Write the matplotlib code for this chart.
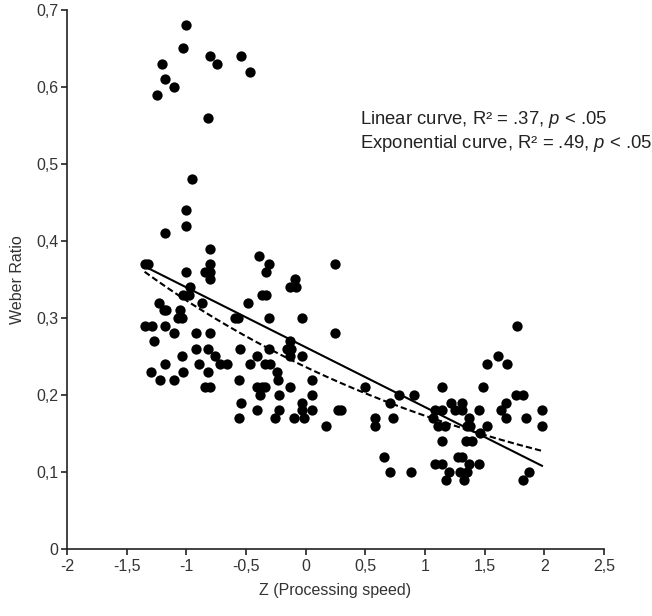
#!/usr/bin/env python3
# -*- coding: utf-8 -*-
import numpy as np
import matplotlib
matplotlib.use("Agg")
import matplotlib.pyplot as plt
import matplotlib as mpl
from matplotlib.ticker import FuncFormatter

mpl.rcParams.update({
    'font.family': ['Liberation Sans', 'DejaVu Sans'],
    'mathtext.fontset': 'custom',
    'mathtext.rm': 'Liberation Sans',
    'mathtext.it': 'Liberation Sans:italic',
})

# Z score (processing speed) and Weber ratio
z_top = [-1.00, -1.03, -1.20, -0.80, -0.74, -0.54, -0.47, -1.18, -1.10, -1.25,
         -0.82, -0.95, -1.00, -1.00, -1.18, -0.80]
w_top = [0.68, 0.65, 0.63, 0.64, 0.63, 0.64, 0.62, 0.61, 0.60, 0.59,
         0.56, 0.48, 0.44, 0.42, 0.41, 0.39]

z_left = [-1.35, -1.32, -1.00, -0.84, -0.80, -0.80, -0.80, -0.97, -1.03, -0.98,
          -0.87, -1.23, -1.19, -1.17, -1.05, -1.07, -1.04, -0.59, -0.57, -1.35,
          -1.29, -1.18, -1.10, -1.27, -0.92, -0.80, -0.92, -0.82, -0.76, -0.55,
          -1.04, -1.18, -0.89, -0.72, -0.66, -1.30, -1.03, -0.82, -1.22, -1.10,
          -0.56, -0.84, -0.80, -0.54, -0.56]
w_left = [0.37, 0.37, 0.36, 0.36, 0.37, 0.36, 0.35, 0.34, 0.33, 0.33,
          0.32, 0.32, 0.31, 0.31, 0.31, 0.30, 0.30, 0.30, 0.30, 0.29,
          0.29, 0.29, 0.28, 0.27, 0.28, 0.28, 0.26, 0.26, 0.25, 0.26,
          0.25, 0.24, 0.24, 0.24, 0.24, 0.23, 0.23, 0.23, 0.22, 0.22,
          0.22, 0.21, 0.21, 0.19, 0.17]

z_mid = [-0.48, -0.39, -0.31, -0.33, -0.37, -0.33, -0.31, -0.09, -0.13, -0.08,
         -0.03, 0.245, 0.245, -0.13, -0.16, -0.12, -0.13, -0.03, -0.31, -0.41,
         -0.47, -0.34, -0.30, -0.24, -0.23, 0.05, -0.41, -0.37, -0.34, -0.38,
         -0.13, -0.22, 0.05, -0.03, -0.03, 0.05, -0.41, -0.22, -0.26, -0.10,
         -0.01, 0.27, 0.17]
w_mid = [0.32, 0.38, 0.37, 0.36, 0.33, 0.33, 0.30, 0.35, 0.34, 0.34,
         0.30, 0.37, 0.28, 0.27, 0.26, 0.26, 0.25, 0.25, 0.26, 0.25,
         0.24, 0.24, 0.24, 0.23, 0.22, 0.22, 0.21, 0.21, 0.21, 0.20,
         0.21, 0.20, 0.20, 0.19, 0.18, 0.18, 0.18, 0.18, 0.17, 0.17,
         0.17, 0.18, 0.16]

z_right = [0.50, 0.30, 0.78, 0.91, 0.71, 0.58, 0.58, 0.73, 0.66, 0.71,
           0.88, 1.14, 1.08, 1.14, 1.22, 1.31, 1.25, 1.31, 1.07, 1.11,
           1.17, 1.14, 1.08, 1.14, 1.20, 1.18, 1.28, 1.31, 1.29, 1.35,
           1.33, 1.37, 1.45, 1.35, 1.38, 1.52, 1.46, 1.34, 1.39, 1.37,
           1.45, 1.49, 1.52, 1.61, 1.69, 1.77, 1.76, 1.82, 1.68, 1.64,
           1.68, 1.85, 1.98, 1.98, 1.87, 1.82]
w_right = [0.21, 0.18, 0.20, 0.20, 0.19, 0.17, 0.16, 0.17, 0.12, 0.10,
           0.10, 0.21, 0.18, 0.18, 0.19, 0.19, 0.18, 0.18, 0.17, 0.16,
           0.16, 0.14, 0.11, 0.11, 0.10, 0.09, 0.12, 0.12, 0.10, 0.10,
           0.09, 0.17, 0.18, 0.16, 0.16, 0.16, 0.15, 0.14, 0.14, 0.11,
           0.11, 0.21, 0.24, 0.25, 0.24, 0.29, 0.20, 0.20, 0.19, 0.18,
           0.17, 0.17, 0.18, 0.16, 0.10, 0.09]

annot_lines = ["Linear curve, R\u00b2 = .37, $p$ < .05",
               "Exponential curve, R\u00b2 = .49, $p$ < .05"]

z = np.array(z_top + z_left + z_mid + z_right)
w = np.array(w_top + w_left + w_mid + w_right)

# fits: linear and exponential (log-linear least squares)
b_lin, a_lin = np.polyfit(z, w, 1)
b_exp, ln_a = np.polyfit(z, np.log(w), 1)
zz = np.linspace(z.min(), z.max(), 200)

fig = plt.figure(figsize=(6.52, 6.16), dpi=100)
ax = fig.add_axes([0.1028, 0.1088, 0.8236, 0.875])

ax.scatter(z, w, s=55, color='black', zorder=3, linewidths=0)
ax.plot(zz, a_lin + b_lin * zz, color='black', lw=1.5, zorder=4)
ax.plot(zz, np.exp(ln_a + b_exp * zz), color='black', lw=1.5,
        linestyle=(0, (3, 1.5)), zorder=4)

ax.set_xlim(-2, 2.5)
ax.set_ylim(0, 0.7)
ax.set_xticks(np.arange(-2, 2.51, 0.5))
ax.set_yticks(np.arange(0, 0.71, 0.1))
comma = FuncFormatter(lambda v, p: f"{round(v, 1):g}".replace('.', ','))
ax.xaxis.set_major_formatter(comma)
ax.yaxis.set_major_formatter(comma)

for s in ['top', 'right']:
    ax.spines[s].set_visible(False)
for s in ['left', 'bottom']:
    ax.spines[s].set_linewidth(1.2)
    ax.spines[s].set_color('#222222')
ax.tick_params(direction='out', length=4, width=1.2, colors='#222222',
               labelsize=11.5, labelcolor='#333333')
ax.tick_params(axis='y', pad=2)

ax.set_xlabel("Z (Processing speed)", fontsize=11.5, color='#333333', labelpad=6)
ax.set_ylabel("Weber Ratio", fontsize=11.5, color='#333333', labelpad=8)

ax.text(0.546, 0.796, annot_lines[0], transform=ax.transAxes,
        fontsize=13.3, color='#222222', va='center')
ax.text(0.546, 0.753, annot_lines[1], transform=ax.transAxes,
        fontsize=13.3, color='#222222', va='center')

fig.savefig("out.png", dpi=100)
